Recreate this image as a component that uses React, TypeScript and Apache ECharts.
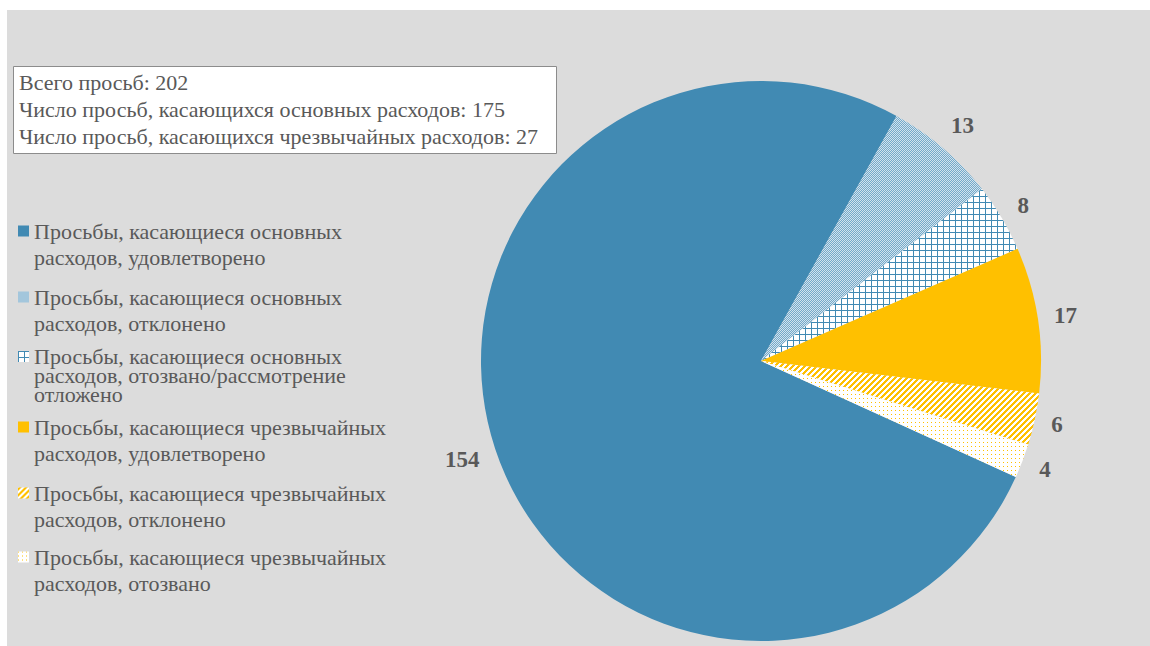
import React, { useEffect, useRef } from 'react';
import * as echarts from 'echarts';

const categories = [
  'Просьбы, касающиеся основных расходов, удовлетворено',
  'Просьбы, касающиеся основных расходов, отклонено',
  'Просьбы, касающиеся основных расходов, отозвано/рассмотрение отложено',
  'Просьбы, касающиеся чрезвычайных расходов, удовлетворено',
  'Просьбы, касающиеся чрезвычайных расходов, отклонено',
  'Просьбы, касающиеся чрезвычайных расходов, отозвано',
];
const values = [154, 13, 8, 17, 6, 4];
const legendLines = [
  ['Просьбы, касающиеся основных', 'расходов, удовлетворено'],
  ['Просьбы, касающиеся основных', 'расходов, отклонено'],
  ['Просьбы, касающиеся основных', 'расходов, отозвано/рассмотрение', 'отложено'],
  ['Просьбы, касающиеся чрезвычайных', 'расходов, удовлетворено'],
  ['Просьбы, касающиеся чрезвычайных', 'расходов, отклонено'],
  ['Просьбы, касающиеся чрезвычайных', 'расходов, отозвано'],
];
const summaryLines = [
  'Всего просьб: 202',
  'Число просьб, касающихся основных расходов: 175',
  'Число просьб, касающихся чрезвычайных расходов: 27',
];

const BLUE = '#418ab3';
const GOLD = '#ffc000';
const TEXT = '#595959';
const FONT = '"Liberation Serif", "Times New Roman", serif';

function makePattern(
  w: number,
  h: number,
  bg: string,
  color: string,
  test: (x: number, y: number) => boolean
) {
  const c = document.createElement('canvas');
  c.width = w;
  c.height = h;
  const ctx = c.getContext('2d')!;
  ctx.fillStyle = bg;
  ctx.fillRect(0, 0, w, h);
  ctx.fillStyle = color;
  for (let x = 0; x < w; x++) for (let y = 0; y < h; y++) if (test(x, y)) ctx.fillRect(x, y, 1, 1);
  return { type: 'pattern', image: c, repeat: 'repeat', imageWidth: w, imageHeight: h } as any;
}

function buildFills() {
  const checker = makePattern(8, 8, '#d2e3ee', '#74a9c9', (x, y) => (x + y) % 2 === 0);
  const grid = makePattern(6, 6, '#ffffff', BLUE, (x, y) => x === 0 || y === 0);
  const diag = makePattern(6, 6, '#ffffff', GOLD, (x, y) => (x + y) % 6 < 3);
  const dots = makePattern(8, 8, '#ffffff', GOLD, (x, y) => x % 4 === 0 && y % 4 === 0);
  return [BLUE, checker, grid, GOLD, diag, dots];
}

export default function App() {
  const ref = useRef<HTMLDivElement>(null);
  useEffect(() => {
    if (!ref.current) return;
    const chart = echarts.init(ref.current, undefined, { renderer: 'svg' });
    const fills = buildFills();
    const CX = 754;
    const CY = 351;
    const R = 280;
    const START = 335.5;
    const total = values.reduce((a, b) => a + b, 0);
    const legendTops = [208, 274, 335.5, 404, 470, 534];

    const legends = categories.map((name, i) => {
      const lh = legendLines[i].length === 3 ? 19 : 26;
      const ih = 11 + 2 * (lh * legendLines[i].length / 2 - lh / 2);
      return {
        data: [name],
        left: 11,
        top: legendTops[i],
        orient: 'vertical',
        padding: 0,
        itemWidth: 11,
        itemHeight: ih,
        icon: `path://M0,0h11v11h-11zM0,${ih}h0.01v0.01h-0.01z`,
        selectedMode: false,
        formatter: () => legendLines[i].join('\n'),
        textStyle: { fontFamily: FONT, fontSize: 22, color: TEXT, lineHeight: lh },
      };
    });

    chart.setOption({
      animation: false,
      backgroundColor: '#dcdcdc',
      textStyle: { fontFamily: FONT },
      title: {
        text: summaryLines.join('\n'),
        left: 6,
        top: 56,
        backgroundColor: '#ffffff',
        borderColor: '#8c8c8c',
        borderWidth: 1,
        padding: [3, 6, 4, 6],
        textStyle: {
          fontFamily: FONT,
          fontSize: 22,
          fontWeight: 'normal',
          color: TEXT,
          lineHeight: 27,
          width: 532,
        },
      },
      legend: legends,
      series: [
        {
          type: 'pie',
          center: [CX, CY],
          radius: R,
          startAngle: START,
          clockwise: true,
          avoidLabelOverlap: false,
          silent: true,
          data: categories.map((name, i) => ({
            name,
            value: values[i],
            itemStyle: { color: fills[i] },
          })),
          label: {
            show: true,
            position: 'outside',
            formatter: '{c}',
            fontFamily: FONT,
            fontSize: 23,
            fontWeight: 'bold',
            color: TEXT,
          },
          labelLine: { show: false },
          labelLayout: (params: any) => {
            const i = params.dataIndex;
            let cum = 0;
            for (let j = 0; j < i; j++) cum += values[j];
            const mid = ((START - (360 * (cum + values[i] / 2)) / total) * Math.PI) / 180;
            const dx = Math.cos(mid);
            const dy = -Math.sin(mid);
            const w = params.labelRect.width;
            const d = R + 15 + (Math.abs(dx) * w) / 2 + Math.abs(dy) * 10;
            return { x: CX + dx * d, y: CY + dy * d, align: 'center', verticalAlign: 'middle' };
          },
        },
      ],
    });
    return () => chart.dispose();
  }, []);
  return (
    <div
      ref={ref}
      style={{ position: 'absolute', left: 7, top: 10, width: 1143, height: 636 }}
    />
  );
}
